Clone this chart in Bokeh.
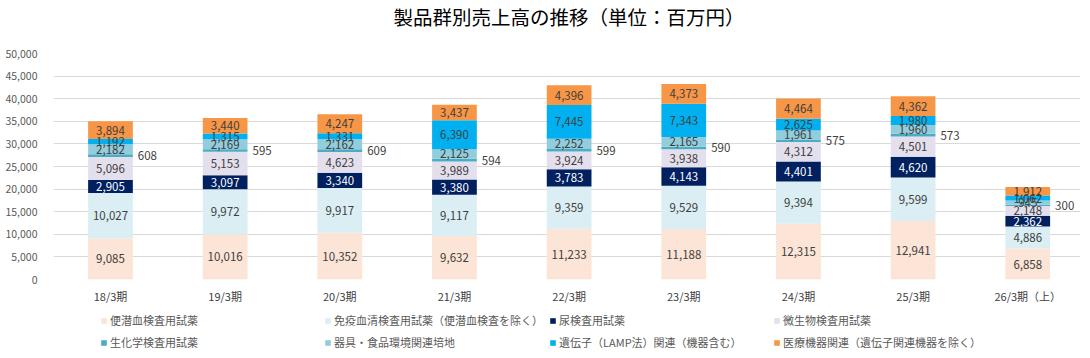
from bokeh.plotting import figure
from bokeh.layouts import column
from bokeh.models import Range1d, Legend, LegendItem, ColumnDataSource, FixedTicker, NumeralTickFormatter
from bokeh.core.properties import value
from bokeh.embed import file_html
from bokeh.resources import INLINE

title_text = "製品群別売上高の推移（単位：百万円）"

periods = ["18/3期", "19/3期", "20/3期", "21/3期", "22/3期", "23/3期", "24/3期", "25/3期", "26/3期（上）"]

series_names = [
    "便潜血検査用試薬",
    "免疫血清検査用試薬（便潜血検査を除く）",
    "尿検査用試薬",
    "微生物検査用試薬",
    "生化学検査用試薬",
    "器具・食品環境関連培地",
    "遺伝子（LAMP法）関連（機器含む）",
    "医療機器関連（遺伝子関連機器を除く）",
]

fobt       = [9085, 10016, 10352, 9632, 11233, 11188, 12315, 12941, 6858]
immuno     = [10027, 9972, 9917, 9117, 9359, 9529, 9394, 9599, 4886]
urine      = [2905, 3097, 3340, 3380, 3783, 4143, 4401, 4620, 2362]
microbe    = [5096, 5153, 4623, 3989, 3924, 3938, 4312, 4501, 2148]
biochem    = [608, 595, 609, 594, 599, 590, 575, 573, 300]
media      = [2182, 2169, 2162, 2125, 2252, 2165, 1961, 1960, 945]
gene       = [1192, 1315, 1331, 6390, 7445, 7343, 2625, 1980, 1062]
devices    = [3894, 3440, 4247, 3437, 4396, 4373, 4464, 4362, 1912]

y_ticks = [0, 5000, 10000, 15000, 20000, 25000, 30000, 35000, 40000, 45000, 50000]

colors = ["#FCE4D6", "#DAEEF3", "#002060", "#E4DFEC", "#4BACC6", "#92CDDC", "#00B0F0", "#F79646"]
text_colors = ["#404040", "#404040", "#FFFFFF", "#404040", "#404040", "#404040", "#404040", "#404040"]

data_series = [fobt, immuno, urine, microbe, biochem, media, gene, devices]
keys = ["s%d" % i for i in range(len(data_series))]

xs = list(range(len(periods)))
src = {"x": xs}
for k, s in zip(keys, data_series):
    src[k] = s
source = ColumnDataSource(src)

JP = "Noto Sans CJK JP"
BAR_W = 0.39
XR = (-0.497, 8.46)
W = 1080

# ---- title strip ----
tf = figure(width=W, height=35, output_backend="svg", toolbar_location=None,
            x_range=Range1d(*XR), y_range=Range1d(0, 1),
            x_axis_location=None, y_axis_location=None,
            min_border_left=53, min_border_right=0, min_border_top=0, min_border_bottom=0)
tf.outline_line_color = None
tf.grid.visible = False
tf.text(x=[(len(periods) - 1) / 2], y=[0.55], text=[title_text], text_align="center",
        text_baseline="middle", text_font=value(JP), text_font_size="19.5px", text_color="#000000")

# ---- main chart ----
p = figure(width=W, height=271, output_backend="svg", toolbar_location=None,
           x_range=Range1d(*XR), y_range=Range1d(0, 50000),
           min_border_left=53, min_border_right=0, min_border_top=18, min_border_bottom=27)
p.outline_line_color = None
p.background_fill_color = "white"

renderers = p.vbar_stack(keys, x="x", width=BAR_W, source=source, color=colors,
                         line_color=None)

lx, ly, lt, lc, ax, ay, at = [], [], [], [], [], [], []
for i in range(len(periods)):
    base = 0
    for j, s in enumerate(data_series):
        v = s[i]
        mid = base + v / 2
        if j == 4:
            ax.append(xs[i] + BAR_W / 2)
            ay.append(mid)
            at.append(f"{v:,}")
        else:
            lx.append(xs[i]); ly.append(mid); lt.append(f"{v:,}"); lc.append(text_colors[j])
        base += v

p.text(x=lx, y=ly, text=lt, text_color=lc, text_align="center", text_baseline="middle",
       text_font=value(JP), text_font_size="11.5px")
p.text(x=ax, y=ay, text=at, text_color="#404040", text_align="left", text_baseline="middle",
       x_offset=5, text_font=value(JP), text_font_size="11.5px")

p.xgrid.grid_line_color = None
p.ygrid.grid_line_color = "#D9D9D9"
p.ygrid.ticker = FixedTicker(ticks=y_ticks)

p.yaxis.ticker = FixedTicker(ticks=y_ticks)
p.yaxis.formatter = NumeralTickFormatter(format="0,0")
p.yaxis.axis_line_color = None
p.yaxis.major_tick_line_color = None
p.yaxis.minor_tick_line_color = None
p.yaxis.major_label_text_font = JP
p.yaxis.major_label_text_font_size = "10.5px"
p.yaxis.major_label_text_color = "#595959"
p.yaxis.major_label_standoff = 10

p.xaxis.ticker = FixedTicker(ticks=xs)
p.xaxis.major_label_overrides = {i: lab for i, lab in enumerate(periods)}
p.xaxis.axis_line_color = None
p.xaxis.major_tick_line_color = None
p.xaxis.minor_tick_line_color = None
p.xaxis.major_label_text_font = JP
p.xaxis.major_label_text_font_size = "11px"
p.xaxis.major_label_text_color = "#404040"
p.xaxis.major_label_standoff = 2

# ---- legend strip ----
lg = figure(width=W, height=44, output_backend="svg", toolbar_location=None,
            x_range=Range1d(0, 1), y_range=Range1d(0, 1),
            x_axis_location=None, y_axis_location=None,
            min_border_left=53, min_border_right=0, min_border_top=0, min_border_bottom=0)
lg.outline_line_color = None
lg.grid.visible = False
dummy = [lg.vbar(x=[5], top=[1], width=0.1, color=c, line_color=None) for c in colors]
# Bokeh fills legend grid column by column: interleave so rows read left to right
order = [0, 4, 1, 5, 2, 6, 3, 7]
items = [LegendItem(label=series_names[k], renderers=[dummy[k]]) for k in order]
legend = Legend(items=items, ncols=4, location=(47, 0),
                glyph_width=7, glyph_height=7, label_standoff=3,
                label_width=208, label_height=14, spacing=6,
                padding=0, margin=0, border_line_alpha=0, background_fill_alpha=0,
                label_text_font=JP, label_text_font_size="11px", label_text_color="#595959")
lg.add_layout(legend, "center")

layout = column(tf, p, lg, spacing=0)
open("out.html", "w").write(file_html(layout, INLINE))
